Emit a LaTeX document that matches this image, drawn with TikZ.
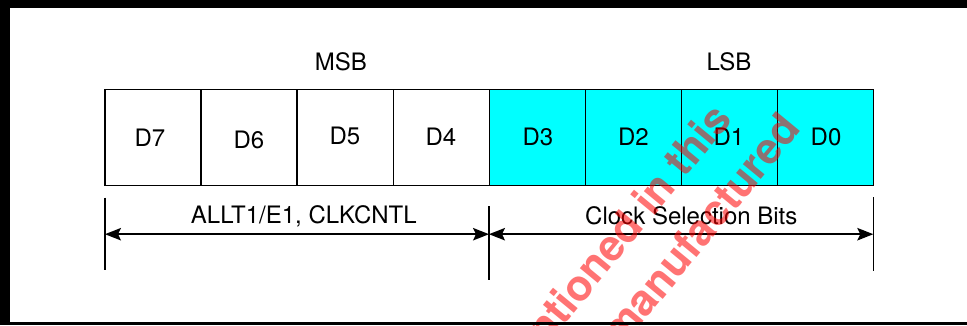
\documentclass[tikz,border=0pt]{standalone}
\usepackage{fontspec}
\setmainfont{TeX Gyre Heros}
\usetikzlibrary{arrows.meta}
\definecolor{cellcyan}{RGB}{0,255,255}
\begin{document}
\begin{tikzpicture}[x=1pt,y=-1pt,
  cellbox/.style={draw=black, line width=1.3pt, minimum width=96.05pt, minimum height=96.4pt, inner sep=0pt, outer sep=0pt, anchor=north west},
  hibox/.style={cellbox, fill=cellcyan},
  lbl/.style={inner sep=0pt, font=\fontsize{24}{28}\selectfont},
  tick/.style={line width=1.3pt},
  dimarrow/.style={line width=1.5pt, {Stealth[length=16pt,width=12.5pt,inset=3pt]}-{Stealth[length=16pt,width=12.5pt,inset=3pt]}},
  wmark/.style={inner sep=0pt, text=red, text opacity=0.55, font=\bfseries\fontsize{43}{51}\selectfont, rotate=50.5}]
\useasboundingbox (0,0) rectangle (967,325);
% cells
\node[cellbox] (c7) at (105,89.3) {};
\node[cellbox] (c6) at (201.05,89.3) {};
\node[cellbox] (c5) at (297.1,89.3) {};
\node[cellbox] (c4) at (393.15,89.3) {};
\node[hibox] (c3) at (489.2,89.3) {};
\node[hibox] (c2) at (585.25,89.3) {};
\node[hibox] (c1) at (681.3,89.3) {};
\node[hibox] (c0) at (777.35,89.3) {};
% labels
\node[lbl] (t7) at (150,137.5) {D7};
\node[lbl] (t6) at (249,139.5) {D6};
\node[lbl] (t5) at (345,136) {D5};
\node[lbl] (t4) at (441,136.5) {D4};
\node[lbl] (t3) at (538,137) {D3};
\node[lbl] (t2) at (633.5,137) {D2};
\node[lbl] (t1) at (729,137) {D1};
\node[lbl] (t0) at (826,137) {D0};
\node[lbl] (msb) at (341,62) {MSB};
\node[lbl] (lsb) at (729,62) {LSB};
% dimension ticks
\coordinate (a1) at (105,197.5);
\coordinate (a2) at (105,270);
\coordinate (b1) at (489,206);
\coordinate (b2) at (489,280);
\coordinate (d1) at (873.3,197.3);
\coordinate (d2) at (873.3,270.5);
\draw[tick] (a1) -- (a2);
\draw[tick] (b1) -- (b2);
\draw[tick] (d1) -- (d2);
\coordinate (am) at (105,234.2);
\coordinate (bm) at (489,234.2);
\coordinate (dm) at (873.3,234.2);
\draw[dimarrow] (am) -- (bm);
\draw[dimarrow] (bm) -- (dm);
\node[lbl] (ltxt) at (303.8,215.8) {ALLT1/E1, CLKCNTL};
\node[lbl] (rtxt) at (691.3,215.8) {Clock Selection Bits};
% watermark
\begin{scope}
\clip (0,0) rectangle (967,325);
\node[wmark, anchor=mid east] (w1) at (731.7,118.1) {mentioned in this};
\node[wmark, anchor=mid east] (w2) at (800.7,127.6) {manufactured};
\end{scope}
% frame
\fill[black] (0,0) rectangle (967,7.5);
\fill[black] (0,0) rectangle (9.8,325);
\fill[black] (0,322) rectangle (967,325);
\end{tikzpicture}
\end{document}
